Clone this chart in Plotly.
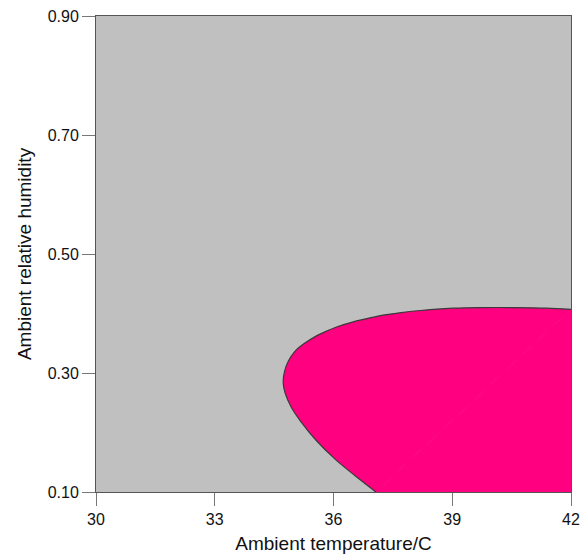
import plotly.graph_objects as go

# Boundary of the feasible region (ambient temperature in C, relative humidity)
boundary_temp = [37.07, 36.57, 36.06, 35.56, 35.18, 34.93, 34.78, 34.73,
                 34.76, 34.86, 35.02, 35.25, 35.56, 35.81, 36.06, 36.50,
                 36.92, 37.34, 37.76, 38.19, 38.61, 39.03, 39.70, 40.54,
                 41.39, 42.00]
boundary_rh = [0.100, 0.126, 0.154, 0.187, 0.218, 0.243, 0.266, 0.283,
               0.302, 0.320, 0.336, 0.349, 0.362, 0.370, 0.377, 0.386,
               0.3925, 0.398, 0.402, 0.405, 0.4075, 0.409, 0.410, 0.410,
               0.409, 0.407]

x_ticks = [30, 33, 36, 39, 42]
y_ticks = [0.10, 0.30, 0.50, 0.70, 0.90]

x_range = [30, 42]
y_range = [0.10, 0.90]

region_color = "#FF0080"

fig = go.Figure()
# lower-right corner of the region, between the curve's end points and the axes
fig.add_trace(go.Scatter(
    x=[boundary_temp[0], boundary_temp[-1], x_range[1], boundary_temp[0]],
    y=[boundary_rh[0], boundary_rh[-1], y_range[0], boundary_rh[0]],
    mode="lines", fill="toself", fillcolor=region_color,
    line=dict(width=1, color=region_color),
    hoverinfo="skip", showlegend=False,
))
# smooth boundary curve, filled up to the chord joining its ends
fig.add_trace(go.Scatter(
    x=boundary_temp, y=boundary_rh, mode="lines", fill="toself",
    fillcolor=region_color,
    line=dict(color="#3a3a3a", width=1.2, shape="spline", smoothing=0.8),
    showlegend=False,
))

axis_font = dict(family="Liberation Sans, Arial, sans-serif", size=16, color="#111111")
title_font = dict(family="Liberation Sans, Arial, sans-serif", size=19, color="#111111")

fig.update_layout(
    width=586, height=556,
    margin=dict(l=96, r=15, t=16, b=64),
    paper_bgcolor="white",
    plot_bgcolor="#C0C0C0",
    xaxis=dict(
        range=x_range, tickvals=x_ticks, ticktext=[str(v) for v in x_ticks],
        showgrid=False, zeroline=False, automargin=False,
        showline=True, linecolor="#555555", linewidth=1, mirror=True,
        ticks="outside", ticklen=13, tickcolor="#777777", tickwidth=1,
        tickfont=axis_font,
        title=dict(text="Ambient temperature/C", font=title_font, standoff=9),
    ),
    yaxis=dict(
        range=y_range, tickvals=y_ticks, ticktext=[f"{v:.2f}" for v in y_ticks],
        showgrid=False, zeroline=False, automargin=False,
        showline=True, linecolor="#555555", linewidth=1, mirror=True,
        ticks="outside", ticklen=13, tickcolor="#777777", tickwidth=1,
        tickfont=axis_font,
        title=dict(text="Ambient relative humidity", font=title_font, standoff=11),
    ),
)

fig.write_html("out.html")
